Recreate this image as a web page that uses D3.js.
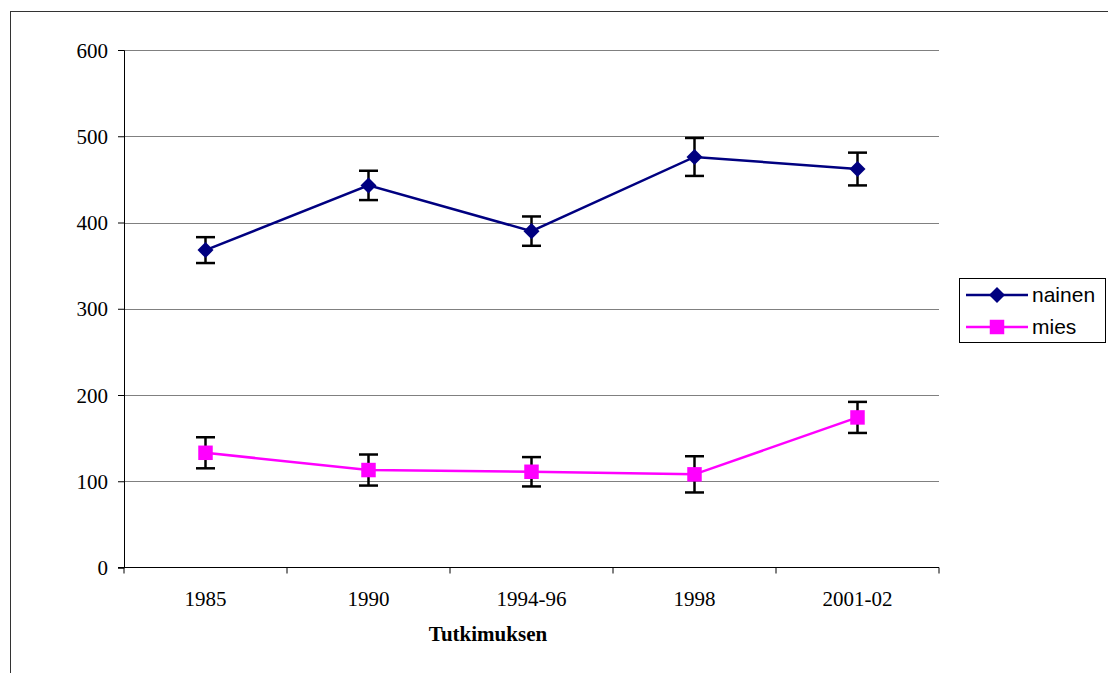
<!DOCTYPE html>
<html>
<head>
<meta charset="utf-8">
<script src="https://cdn.jsdelivr.net/npm/d3@7"></script>
<style>
body { margin: 0; background: #fff; }
svg { display: block; }
.serif { font-family: "Liberation Serif", "Times New Roman", serif; font-size: 21px; fill: #000; }
.sans { font-family: "Liberation Sans", Arial, sans-serif; font-size: 21px; fill: #000; }
</style>
</head>
<body>
<svg id="chart" width="1108" height="673"></svg>
<script>
const categories = ["1985", "1990", "1994-96", "1998", "2001-02"];
const nainen = [368, 443, 390, 476, 462];
const nainenErr = [15, 17, 17, 22, 19];
const mies = [133, 113, 111, 108, 174];
const miesErr = [18, 18, 17, 21, 18];
const yTicks = [0, 100, 200, 300, 400, 500, 600];

const svg = d3.select("#chart");
const plotLeft = 124, plotRight = 939, plotTop = 50, plotBottom = 567.5;

// outer frame (runs off the picture right and bottom)
svg.append("rect")
  .attr("x", 10.5).attr("y", 11.5)
  .attr("width", 1200).attr("height", 800)
  .attr("fill", "none").attr("stroke", "#333");

let x = d3.scaleBand().domain(categories).range([plotLeft, plotRight]);
let y = d3.scaleLinear().domain([0, 600]).range([plotBottom, plotTop]);

// gridlines
svg.selectAll("line.grid").data(yTicks.filter(d => d > 0))
  .enter().append("line")
  .attr("x1", plotLeft).attr("x2", plotRight)
  .attr("y1", d => Math.round(y(d)) + 0.5).attr("y2", d => Math.round(y(d)) + 0.5)
  .attr("stroke", "#808080").attr("stroke-width", 1);

// y axis
let yAxis = svg.append("g")
  .attr("transform", `translate(${plotLeft},0)`)
  .call(d3.axisLeft(y).tickValues(yTicks).tickSize(6).tickPadding(10));
yAxis.attr("font-size", null).attr("font-family", null);
yAxis.select(".domain").attr("stroke", "#000");
yAxis.selectAll(".tick line").attr("stroke", "#000");
yAxis.selectAll("text").attr("class", "serif").attr("dy", "0.34em");

// x axis: ticks at category boundaries
svg.append("line")
  .attr("x1", plotLeft - 6).attr("x2", plotRight)
  .attr("y1", plotBottom).attr("y2", plotBottom)
  .attr("stroke", "#000");
let bounds = categories.map(c => x(c)).concat([x.range()[1]]);
svg.selectAll("line.xtick").data(bounds)
  .enter().append("line")
  .attr("x1", d => d).attr("x2", d => d)
  .attr("y1", plotBottom).attr("y2", plotBottom + 6)
  .attr("stroke", "#000");
svg.selectAll("text.xlab").data(categories)
  .enter().append("text")
  .attr("class", "serif")
  .attr("x", d => x(d) + x.bandwidth() / 2)
  .attr("y", 606)
  .attr("text-anchor", "middle")
  .text(d => d);

svg.append("text")
  .attr("class", "serif")
  .attr("x", 488).attr("y", 641)
  .attr("text-anchor", "middle")
  .attr("font-weight", "bold")
  .text("Tutkimuksen");

const cx = d => x(d) + x.bandwidth() / 2;
const series = [
  {name: "nainen", values: nainen, err: nainenErr, color: "#000080", rot: 45, size: 128},
  {name: "mies", values: mies, err: miesErr, color: "#FF00FF", rot: 0, size: 210}
];
const marker = d3.symbol().type(d3.symbolSquare);

series.forEach(s => {
  let pts = categories.map((c, i) => ({c: c, v: s.values[i], e: s.err[i]}));
  svg.append("path")
    .attr("d", d3.line().x(d => cx(d.c)).y(d => y(d.v))(pts))
    .attr("fill", "none").attr("stroke", s.color).attr("stroke-width", 2.5);
  let eb = svg.append("g").attr("stroke", "#000").attr("stroke-width", 2.5);
  pts.forEach(d => {
    eb.append("line").attr("x1", cx(d.c)).attr("x2", cx(d.c))
      .attr("y1", y(d.v + d.e)).attr("y2", y(d.v - d.e));
    [d.v + d.e, d.v - d.e].forEach(v => {
      eb.append("line").attr("x1", cx(d.c) - 9.5).attr("x2", cx(d.c) + 9.5)
        .attr("y1", y(v)).attr("y2", y(v));
    });
  });
  svg.selectAll(null).data(pts).enter().append("path")
    .attr("transform", d => `translate(${cx(d.c)},${y(d.v)}) rotate(${s.rot})`)
    .attr("d", marker.size(s.size)())
    .attr("fill", s.color);
});

// legend
let lg = svg.append("g");
lg.append("rect")
  .attr("x", 959.5).attr("y", 278.5).attr("width", 146).attr("height", 64)
  .attr("fill", "#fff").attr("stroke", "#000");
series.forEach((s, i) => {
  let ly = 295 + i * 32;
  lg.append("line").attr("x1", 966).attr("x2", 1028)
    .attr("y1", ly).attr("y2", ly)
    .attr("stroke", s.color).attr("stroke-width", 2.5);
  lg.append("path")
    .attr("transform", `translate(997,${ly}) rotate(${s.rot})`)
    .attr("d", marker.size(s.size)())
    .attr("fill", s.color);
  lg.append("text")
    .attr("class", "sans")
    .attr("x", 1032).attr("y", ly + 7)
    .text(s.name);
});
</script>
</body>
</html>
